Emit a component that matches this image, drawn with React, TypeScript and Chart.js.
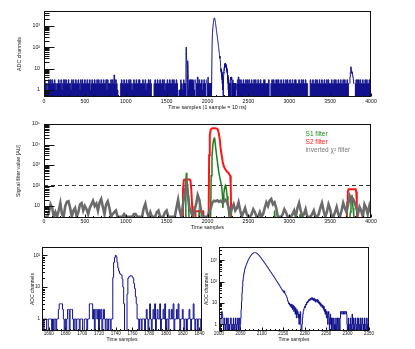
import React, { useEffect, useRef } from 'react';
import { Chart, registerables } from 'chart.js';
Chart.register(...registerables);

// ---------------- DATA ----------------
// Top trace: ADC noise envelope, one digit per 10 samples (0..4000)
const NOISE_STEP = 10;
const TOP_NOISE =
  '2322123232 3223212232 2312332322 3221323223 2232132322 ' +
  '3223223123 2232232322 3223223132 2232325232 1000232232 ' +
  '2322323212 3223223322 2322312232 3200023223 2232232312 ' +
  '2322322323 2232232232 0000000000 0000032242 3223123223 ' +
  '0000000000 0000000000 0000000000 0000003243 2322322323 ' +
  '2322322323 2232232223 3222230023 2322332322 3223223232 ' +
  '2322322332 2232232322 3220003223 2232322322 3223223232 ' +
  '2232232322 3223223232 2322322323 2232332322 3223232232 2';

// S1 pulse region, per sample, starting at S1_START
const S1_START = 1652;
const S1_ADC = [
  1,1,0,1,1,1,0,0,1,1,1,1,0,1,0,1,1,0,1,1,
  2,3,3,3,3,2,1,0,1,0,1,2,2,0,2,2,2,1,0,1,
  1,0,1,1,1,0,1,1,1,0,0,1,1,1,0,1,1,3,3,3,
  3,1,2,0,2,2,1,2,0,2,1,2,0,1,2,1,0,1,1,0,
  1,1,0,1,1,20,60,85,100,90,60,40,32,27,25,24,18,10,3,0,
  0,0,6,19,21,22,23,23,21,19,13,9,5,3,1,1,0,1,1,0,
  1,1,1,0,1,2,1,0,1,3,1,0,1,2,1,3,0,1,2,1,
  1,3,0,1,1,2,1,3,0,1,1,0,2,1,1,2,1,3,0,1,
  1,2,1,3,1,0,1,1,2,1,0,1,1,0,1,1,2,1,0,1,
  1,3,1,0,1,1,0,1,1,1,0,1,
];

// S2 pulse region, per sample, starting at S2_START
const S2_START = 2000;
const S2_ADC = [
  1,2,1,0,1,2,3,4,3,2, 1,0,1,2,1,0,1,1,2,0, 1,2,1,0,1,0,1,2,2,1,
  0,1,1,0,2,1,1,0,1,2, 1,0,1,1,2,0,1,2,1,0, 1,2,5,12,30,60,110,160,220,290,
  360,430,500,560,630,720,800,900,1000,1100, 1200,1300,1400,1500,1620,1730,1850,1950,2030,2100,
  2170,2220,2260,2290,2300,2290,2260,2210,2150,2080, 2000,1920,1830,1740,1650,1560,1470,1390,1310,1230,
  1150,1080,1010,950,890,830,780,730,680,640, 600,560,520,490,455,425,395,370,345,320,
  300,280,262,245,228,212,198,185,172,160, 150,140,130,121,113,105,98,91,85,79,
  73,68,63,58,54,50,46,43,40,37, 34,38,30,36,28,26,24,22,20,17,
  14,12,11,9,10,8,9,7,8,6, 9,7,5,8,6,4,7,5,3,6,
  4,2,5,3,4,2,3,1,3,2, 4,1,0,0,1,2,3,4,5,6,
  7,6,8,9,8,11,10,12,11,14, 13,15,13,16,14,17,15,18,14,17,
  16,13,17,14,12,15,11,14,13,15, 11,14,10,12,9,11,8,10,7,9,
  8,6,8,7,5,7,4,5,3,5, 4,2,4,3,1,3,4,2,0,2,
  3,1,2,0,2,1,0,1,2,0, 1,1,0,2,1,0,1,2,0,1,
  2,1,0,2,4,4,4,3,4,4, 4,3,4,4,3,4,4,4,3,1,
  0,1,2,0,1,1,0,2,1,0, 1,3,1,0,2,1,0,1,2,1,
  0,1,1,2,0,1,2,0,1,1, 0,2,1,0,1,2,1,0,1,0,
  2,1,1,0,1,2,0,1,1,2, 1,
];

// small late pulse
const BUMP_T = [3740, 3745, 3750, 3755, 3760, 3765, 3770, 3775, 3780, 3785, 3790];
const BUMP_ADC = [2, 4, 7, 12, 9, 6, 7, 5, 4, 3, 2];

// Filter outputs (panel 2)
const CHI_STEP = 20;
const CHI_FILTER = [
  3,3,3,5,12,8,3,5,3,6, 14,4,3,10,16,17,8,3,6,8,
  3,5,12,14,6,10,7,4,8,12, 18,10,13,6,15,22,9,4,12,17,
  8,3,4,5,6,3,3,3,3,4, 3,3,3,3,3,4,4,3,3,3,
  3,8,13,5,3,5,3,3,3,5, 6,3,3,3,5,6,3,3,3,3,
  3,8,20,6,3,12,40,125,30,8, 5,3,6,12,34,20,6,3,3,3,
  3,5,8,15,18,17,19,16,18,15, 17,20,15,8,4,8,12,6,8,15,
  6,3,5,8,4,3,3,4,7,5, 3,3,5,3,4,8,15,10,18,22,
  12,15,8,3,3,3,4,7,5,3, 3,3,4,6,3,8,14,6,3,4,
  7,3,3,3,4,6,3,3,4,8, 14,6,3,5,12,7,3,3,5,9,
  4,3,6,14,8,5,12,30,18,22, 15,8,4,9,6,3,12,8,4,10,
  5,
];
const S1F_T = [0, 1728, 1733, 1737, 1742, 1747, 1752, 1758, 1765, 1770, 1774, 1894, 1898, 1905, 1909,
  2038, 2045, 2055, 2065, 2075, 2082, 2090, 2100, 2112, 2125, 2138, 2150, 2162, 2175, 2183, 2188, 2193,
  2200, 2210, 2218, 2225, 2232, 2240, 2250, 2258, 2265, 2815, 2820, 2826, 3125, 3131, 3137,
  3740, 3748, 3755, 3762, 3767, 3772, 3780, 3788, 3795, 4000];
const S1F_V = [0, 0, 30, 150, 420, 200, 120, 90, 35, 8, 0, 0, 5, 5, 0,
  0, 300, 2500, 9000, 17000, 20000, 16000, 7000, 2800, 1100, 450, 250, 150, 80, 30, 8, 15,
  40, 80, 100, 85, 60, 30, 12, 5, 0, 0, 6, 0, 0, 4, 0,
  0, 5, 15, 25, 35, 20, 8, 4, 0, 0];
const S2F_T = [0, 1694, 1700, 1710, 1716, 1784, 1792, 1802, 1812, 1819, 1848, 1852, 1946, 1950,
  2014, 2020, 2028, 2040, 2060, 2100, 2125, 2138, 2150, 2160, 2170, 2185, 2200, 2220, 2240, 2260, 2278, 2284, 2290,
  3704, 3709, 3716, 3726, 3812, 3820, 3826, 3830, 4000];
const S2F_V = [0, 0, 60, 170, 195, 195, 170, 60, 10, 0, 0, 5.5, 5.5, 0,
  0, 3000, 30000, 55000, 62000, 62000, 56000, 35000, 18000, 7000, 3500, 1500, 850, 600, 470, 390, 300, 120, 0,
  0, 15, 50, 66, 66, 50, 15, 0, 0];
const THRESHOLD = 100;

const TOP_TICKS = [0, 500, 1000, 1500, 2000, 2500, 3000, 3500, 4000];
const Z1_TICKS = [1660, 1680, 1700, 1720, 1740, 1760, 1780, 1800, 1820, 1840];
const Z2_TICKS = [2000, 2050, 2100, 2150, 2200, 2250, 2300, 2350];

const LEGEND_LABELS = ['S1 filter', 'S2 filter', 'inverted χ² filter'];
const LEGEND_COLORS = ['#1f8a1f', '#ff1a1a', '#7a7a7a'];

// ---------------- STYLE ----------------
const FONT = "'Liberation Sans', Arial, Helvetica, sans-serif";
const INK = '#111';
const NAVY = '#12128e';
const ADC_FLOOR = 0.1;
const P2_MIN = 2.6;

const POW: Record<number, string> = { 0: '1', 1: '10', 2: '10²', 3: '10³', 4: '10⁴', 5: '10⁵' };
function powLabel(v: number) {
  const l = Math.log10(v);
  const e = Math.round(l);
  return Math.abs(l - e) < 1e-6 ? POW[e] ?? '' : '';
}

function toPts(xs: number[], ys: number[], floor: number) {
  return xs.map((x, i) => ({ x, y: ys[i] > 0 ? ys[i] : floor }));
}
function seq(start: number, n: number, step = 1) {
  return Array.from({ length: n }, (_, i) => start + i * step);
}

const s1Pts = toPts(seq(S1_START, S1_ADC.length), S1_ADC, ADC_FLOOR);
const s2Pts = toPts(seq(S2_START, S2_ADC.length), S2_ADC, ADC_FLOOR);
const bumpPts = toPts(BUMP_T, BUMP_ADC, ADC_FLOOR);
const noiseDigits = TOP_NOISE.replace(/\s+/g, '').split('').map(Number);
const S1_END = S1_START + S1_ADC.length - 1;
const S2_END = S2_START + S2_ADC.length - 1;
const covered = (x: number) =>
  (x >= S1_START - 5 && x <= S1_END + 5) || (x >= S2_START - 5 && x <= S2_END + 5) ||
  (x >= BUMP_T[0] - 5 && x <= BUMP_T[BUMP_T.length - 1] + 5);
// noise envelope, broken (null) where detailed samples are drawn
const noisePts = seq(0, noiseDigits.length, NOISE_STEP).map((x, i) => ({
  x, y: covered(x) ? null : noiseDigits[i] > 0 ? noiseDigits[i] : ADC_FLOOR,
}));

// ---------------- HELPERS ----------------
function xAxis(min: number, max: number, ticks: number[], title: string, tickSize: number, titleSize: number,
  height: number, titlePad: number, labelPad: number) {
  return {
    type: 'linear', min, max,
    afterBuildTicks: (s: any) => { s.ticks = ticks.map((v) => ({ value: v })); },
    afterFit: (s: any) => { s.height = height; },
    ticks: { callback: (v: any) => String(v), font: { family: FONT, size: tickSize }, color: INK, padding: labelPad,
      maxRotation: 0, minRotation: 0, autoSkip: false },
    grid: { display: false, drawTicks: false },
    border: { display: false },
    title: { display: true, text: title, font: { family: FONT, size: titleSize }, color: INK, padding: { top: 0, bottom: titlePad } },
  };
}
function yAxis(min: number, max: number, powers: number[], title: string, tickSize: number, titleSize: number,
  width: number, titlePad: number, labelPad: number) {
  return {
    type: 'logarithmic', min, max,
    afterBuildTicks: (s: any) => { s.ticks = powers.map((v) => ({ value: v })); },
    afterFit: (s: any) => { s.width = width; },
    ticks: { callback: (v: any) => powLabel(Number(v)), font: { family: FONT, size: tickSize }, color: INK, padding: labelPad, autoSkip: false },
    grid: { display: false, drawTicks: false },
    border: { display: false },
    title: { display: true, text: title, font: { family: FONT, size: titleSize }, color: INK, padding: { top: titlePad, bottom: 0 } },
  };
}

function framePlugin(xMajor: number[], xMinorStep: number, xMajorLen: number, xMinorLen: number, yMajorLen: number, yMinorLen: number) {
  return {
    id: 'rootFrame',
    afterDatasetsDraw(chart: any) {
      const { ctx, chartArea: a, scales } = chart;
      const xs = scales.x, ys = scales.y;
      const L = Math.round(a.left) + 0.5, R = Math.round(a.right) - 0.5;
      const T = Math.round(a.top) + 0.5, B = Math.round(a.bottom) - 0.5;
      ctx.save();
      ctx.strokeStyle = INK;
      ctx.lineWidth = 1;
      ctx.beginPath();
      const e0 = Math.floor(Math.log10(ys.min)), e1 = Math.ceil(Math.log10(ys.max));
      for (let e = e0; e <= e1; e++) {
        for (let k = 1; k <= 9; k++) {
          const v = k * Math.pow(10, e);
          if (v < ys.min || v > ys.max) continue;
          const py = Math.round(ys.getPixelForValue(v)) + 0.5;
          ctx.moveTo(L, py);
          ctx.lineTo(L + (k === 1 ? yMajorLen : yMinorLen), py);
        }
      }
      const first = Math.ceil(xs.min / xMinorStep) * xMinorStep;
      for (let v = first; v <= xs.max + 1e-9; v += xMinorStep) {
        const px = Math.round(xs.getPixelForValue(v)) + 0.5;
        ctx.moveTo(px, B);
        ctx.lineTo(px, B - (xMajor.includes(v) ? xMajorLen : xMinorLen));
      }
      ctx.stroke();
      ctx.strokeRect(L, T, R - L, B - T);
      ctx.restore();
    },
  };
}

const legendPlugin = {
  id: 'filterLegend',
  afterDraw(chart: any) {
    const { ctx, chartArea: a } = chart;
    const w = a.right - a.left, h = a.bottom - a.top;
    ctx.save();
    ctx.font = `6.5px ${FONT}`;
    ctx.textAlign = 'left';
    ctx.textBaseline = 'middle';
    LEGEND_LABELS.forEach((t, i) => {
      ctx.fillStyle = LEGEND_COLORS[i];
      ctx.fillText(t, a.left + 0.8 * w, a.top + (0.106 + 0.089 * i) * h);
    });
    ctx.restore();
  },
};

function baseOptions(padding: any, scales: any) {
  return {
    animation: false, responsive: false, devicePixelRatio: 1, events: [],
    layout: { padding },
    plugins: { legend: { display: false }, tooltip: { enabled: false } },
    scales,
  };
}
const trace = (data: any[], color: string, width: number, stepped: any = false, dash: number[] = []) => ({
  data, borderColor: color, borderWidth: width, pointRadius: 0, fill: false, tension: 0, stepped, borderDash: dash, spanGaps: false,
});

// ---------------- CHART CONFIGS ----------------
const makeTop = () => ({
  type: 'line',
  data: {
    datasets: [
      trace(s1Pts, NAVY, 1, 'middle'),
      trace(s2Pts, NAVY, 1, 'middle'),
      trace(bumpPts, NAVY, 1, 'middle'),
      { ...trace(noisePts, NAVY, 0.8, 'middle'), fill: 'start', backgroundColor: NAVY },
    ],
  },
  options: baseOptions({ left: 0, top: 11, right: 44, bottom: 0 }, {
    x: xAxis(0, 4000, TOP_TICKS, 'Time samples (1 sample = 10 ns)', 5.2, 5.3, 18, 4.3, 1),
    y: yAxis(0.47, 4850, [1, 10, 100, 1000], 'ADC channels', 5.2, 5.3, 44, 16.8, 4),
  }),
  plugins: [framePlugin(TOP_TICKS, 100, 3, 1.5, 10, 5)],
});

const makeFilters = () => ({
  type: 'line',
  data: {
    datasets: [
      trace(toPts(seq(0, CHI_FILTER.length, CHI_STEP), CHI_FILTER, P2_MIN), '#6b6b6b', 2.6),
      trace(toPts(S1F_T, S1F_V, P2_MIN), '#1f7f1f', 1.5),
      trace(toPts(S2F_T, S2F_V, P2_MIN), '#ff1414', 2),
      trace(toPts([0, 4000], [THRESHOLD, THRESHOLD], P2_MIN), '#333', 1, false, [4, 3]),
    ],
  },
  options: baseOptions({ left: 0, top: 12, right: 44, bottom: 0 }, {
    x: xAxis(0, 4000, TOP_TICKS, 'Time samples', 5.2, 5.3, 14, 1.5, 0),
    y: yAxis(P2_MIN, 1e5, [10, 100, 1000, 10000, 100000], 'Signal filter value [AU]', 5.2, 5.3, 44, 15.1, 4),
  }),
  plugins: [framePlugin(TOP_TICKS, 100, 3, 1.5, 10, 5), legendPlugin],
});

const makeZoom1 = () => ({
  type: 'line',
  data: { datasets: [trace(s1Pts, NAVY, 1, 'middle')] },
  options: baseOptions({ left: 0, top: 7, right: 5, bottom: 0 }, {
    x: xAxis(1652, 1843, Z1_TICKS, 'Time samples', 4.5, 5, 18, 6, 0.5),
    y: yAxis(0.42, 182, [1, 10, 100], 'ADC channels', 4.5, 5, 42, 30, 2),
  }),
  plugins: [framePlugin(Z1_TICKS, 5, 3, 1.5, 5, 2.5)],
});

const makeZoom2 = () => ({
  type: 'line',
  data: { datasets: [trace(s2Pts, NAVY, 1, 'middle')] },
  options: baseOptions({ left: 0, top: 7, right: 46, bottom: 0 }, {
    x: xAxis(2000, 2350, Z2_TICKS, 'Time samples', 4.5, 5, 18, 6, 0.5),
    y: yAxis(0.49, 4200, [1, 10, 100, 1000], 'ADC channels', 4.5, 5, 19, 3.7, 2),
  }),
  plugins: [framePlugin(Z2_TICKS, 10, 3, 1.5, 5, 2.5)],
});

// ---------------- COMPONENTS ----------------
type PanelProps = { left: number; top: number; width: number; height: number; make: () => any };
function Panel({ left, top, width, height, make }: PanelProps) {
  const ref = useRef<HTMLCanvasElement | null>(null);
  useEffect(() => {
    if (!ref.current) return;
    const chart = new Chart(ref.current, make());
    return () => chart.destroy();
  }, [make]);
  return (
    <canvas ref={ref} width={width} height={height}
      style={{ position: 'absolute', left, top, width, height, display: 'block' }} />
  );
}

export default function App() {
  return (
    <div style={{ position: 'absolute', left: 0, top: 0, width: 415, height: 349, background: '#fff', overflow: 'hidden' }}>
      <Panel left={0} top={0} width={415} height={115} make={makeTop} />
      <Panel left={0} top={112} width={415} height={120} make={makeFilters} />
      <Panel left={0} top={240} width={207} height={109} make={makeZoom1} />
      <Panel left={200} top={240} width={215} height={109} make={makeZoom2} />
    </div>
  );
}
